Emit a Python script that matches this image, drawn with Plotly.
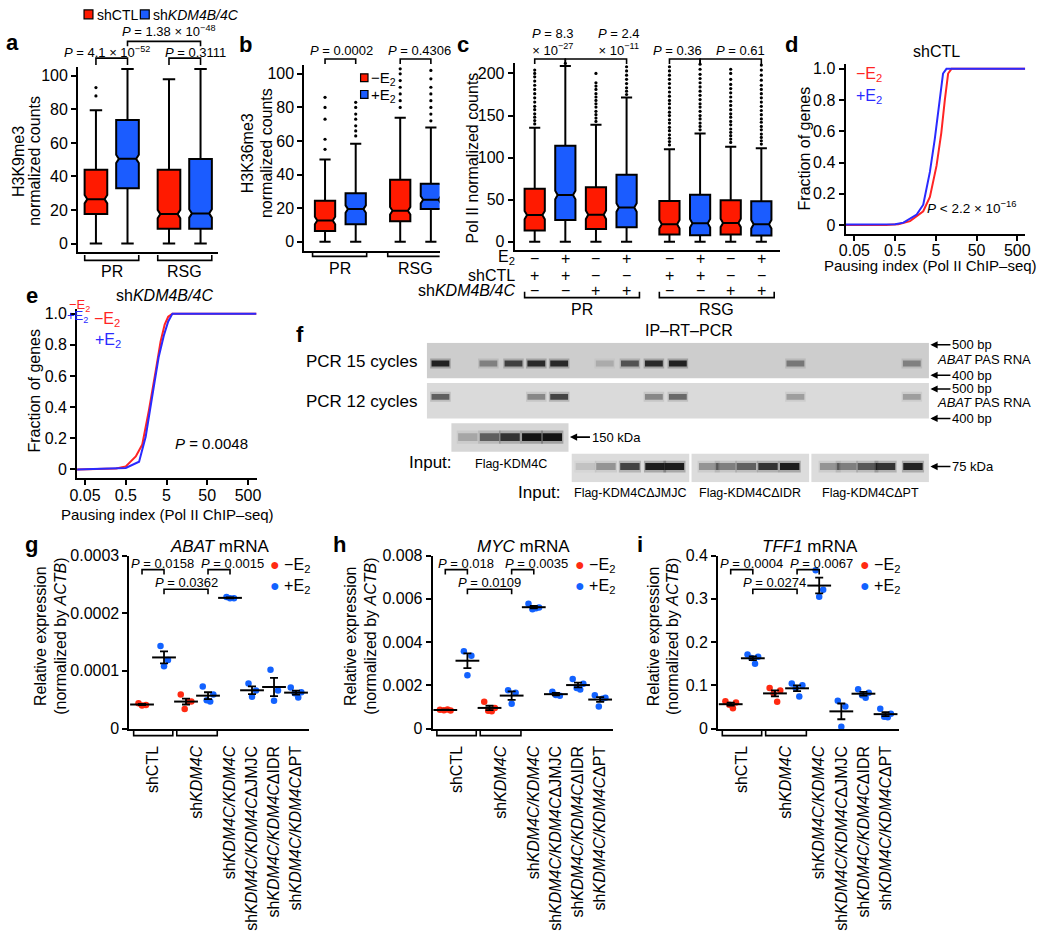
import numpy as np
import plotly.graph_objects as go

# ======================= DATA =======================
# Panel a: H3K9me3 normalized counts (box order: PR-shCTL, PR-shKDM4B/4C, RSG-shCTL, RSG-shKDM4B/4C)
a_groups = ["PR", "RSG"]
a_conditions = ["shCTL", "shKDM4B/4C"]
a_lowerfence = [0, 0, 0, 0]
a_q1 = [17.6, 33.0, 8.8, 8.8]
a_median = [26.5, 50.5, 17.6, 18.0]
a_q3 = [44.0, 73.6, 44.0, 50.4]
a_upperfence = [79.5, 104.0, 98.0, 104.0]
a_outliers = [[88, 93], [], [], []]
a_pvalues = ["<i>P</i> = 4.1 × 10<sup>−52</sup>", "<i>P</i> = 0.3111", "<i>P</i> = 1.38 × 10<sup>−48</sup>"]

# Panel b: H3K36me3 normalized counts (PR -E2, PR +E2, RSG -E2, RSG +E2)
b_groups = ["PR", "RSG"]
b_conditions = ["−E<sub>2</sub>", "+E<sub>2</sub>"]
b_lowerfence = [0, 0, 0, 0]
b_q1 = [6.4, 10.3, 12.2, 19.5]
b_median = [12.6, 19.4, 18.4, 25.0]
b_q3 = [24.3, 28.9, 36.9, 34.5]
b_upperfence = [49.0, 58.3, 73.8, 68.0]
b_outliers = [[55, 61, 73, 80, 86],
              [63, 66, 69, 73, 76, 80, 83],
              [80, 84, 88, 92, 96, 100, 103],
              [72, 76, 80, 84, 88, 92, 97, 102]]
b_pvalues = ["<i>P</i> = 0.0002", "<i>P</i> = 0.4306"]

# Panel c: Pol II normalized counts
c_groups = ["PR", "RSG"]
c_e2 = ["−", "+", "−", "+", "−", "+", "−", "+"]
c_shctl = ["+", "+", "−", "−", "+", "+", "−", "−"]
c_shkdm = ["−", "−", "+", "+", "−", "−", "+", "+"]
c_lowerfence = [0, 0, 0, 0, 0, 0, 0, 0]
c_q1 = [13.3, 25.8, 15.2, 17.2, 8.6, 7.8, 8.6, 7.4]
c_median = [31.6, 55.5, 32.0, 40.6, 20.7, 21.9, 22.3, 20.7]
c_q3 = [62.9, 114.0, 64.8, 79.7, 48.4, 55.9, 49.2, 48.0]
c_upperfence = [135.5, 209.0, 139.0, 171.5, 110.0, 128.5, 113.0, 111.0]
c_outliers = [
    [140, 144, 148, 152, 157, 161, 166, 171, 176, 181, 186, 191, 196, 200, 204],
    [212],
    [143, 147, 151, 155, 160, 164, 168, 172, 176, 181, 185, 189, 200],
    [175, 179, 183, 188, 193, 198, 203, 208],
    [115, 119, 123, 127, 132, 136, 141, 145, 150, 154, 159, 164, 168, 173, 178, 183, 188, 193, 198, 203, 208],
    [133, 137, 141, 146, 150, 155, 160, 164, 169, 174, 179, 184, 189, 194, 199, 205, 211],
    [118, 122, 126, 130, 134, 139, 143, 148, 152, 157, 162, 167, 172, 177, 182, 187, 193, 200, 205],
    [116, 120, 124, 128, 133, 137, 142, 146, 151, 156, 161, 166, 171, 176, 181, 186, 192, 198, 204, 210],
]
c_pvalues = ["<i>P</i> = 8.3<br>× 10<sup>−27</sup>", "<i>P</i> = 2.4<br>× 10<sup>−11</sup>",
             "<i>P</i> = 0.36", "<i>P</i> = 0.61"]

# Panel d: cumulative fraction vs pausing index, shCTL
d_minus_x = [0.03, 0.3, 0.6, 1.16, 2.45, 3.57, 5.2, 6.8, 8.3, 10.0, 12.1, 780]
d_minus_y = [0.0, 0.0, 0.005, 0.025, 0.088, 0.18, 0.38, 0.59, 0.80, 0.97, 1.0, 1.0]
d_plus_x = [0.03, 0.5, 0.8, 1.69, 2.45, 3.57, 4.7, 6.3, 7.5, 9.1, 780]
d_plus_y = [0.003, 0.005, 0.015, 0.067, 0.13, 0.34, 0.55, 0.82, 0.97, 1.0, 1.0]

# Panel e: shKDM4B/4C
e_minus_x = [0.03, 0.29, 0.5, 0.88, 1.27, 1.85, 2.7, 3.57, 4.5, 5.5, 7.0, 800]
e_minus_y = [0.0, 0.006, 0.02, 0.084, 0.16, 0.38, 0.63, 0.82, 0.93, 0.98, 1.0, 1.0]
e_plus_x = [0.03, 0.5, 1.06, 1.54, 2.23, 3.2, 4.3, 5.5, 7.0, 800]
e_plus_y = [0.0, 0.01, 0.05, 0.21, 0.47, 0.72, 0.86, 0.95, 1.0, 1.0]

# Panel f: gel band lanes and intensities
f_pcr15_lane = [0.1, 2.2, 3.3, 4.3, 5.3, 7.3, 8.4, 9.45, 10.5, 15.65, 20.75]
f_pcr15_int = [0.9, 0.35, 0.7, 0.85, 0.85, 0.15, 0.6, 0.85, 0.9, 0.4, 0.35]
f_pcr12_lane = [0.1, 4.3, 5.3, 9.45, 10.5, 15.65, 20.75]
f_pcr12_int = [0.55, 0.35, 0.7, 0.35, 0.5, 0.25, 0.25]
f_wb150_lane = [1.3, 2.25, 3.15, 4.1, 5.0]
f_wb150_int = [0.2, 0.55, 0.8, 1.0, 1.0]
f_wb75_lane = [6.45, 7.35, 8.4, 9.5, 10.35, 11.85, 12.6, 13.5, 14.45, 15.4, 17.15, 17.9, 18.8, 19.6, 20.8]
f_wb75_int = [0.1, 0.3, 0.7, 0.95, 0.95, 0.3, 0.4, 0.55, 0.8, 0.95, 0.3, 0.4, 0.6, 0.8, 0.9]
f_inputs = ["Flag-KDM4CΔJMJC", "Flag-KDM4CΔIDR", "Flag-KDM4CΔPT"]

# Panels g, h, i: relative expression (normalized by ACTB)
ghi_line = ["shCTL", "shCTL", "shKDM4C", "shKDM4C", "KDM4C", "ΔJMJC", "ΔIDR", "ΔPT"]
ghi_treat = ["−", "+", "−", "+", "+", "+", "+", "+"]
ghi_labels = {"shCTL": "shCTL", "shKDM4C": "sh<i>KDM4C</i>", "KDM4C": "sh<i>KDM4C/KDM4C</i>",
              "ΔJMJC": "sh<i>KDM4C/KDM4C</i>ΔJMJC", "ΔIDR": "sh<i>KDM4C/KDM4C</i>ΔIDR",
              "ΔPT": "sh<i>KDM4C/KDM4C</i>ΔPT"}
g_values = [[0.000044, 0.000041, 0.000040], [0.000143, 0.000119, 0.000108],
            [0.000059, 0.000047, 0.000034, 0.000047], [0.000073, 0.000059, 0.000049, 0.000047],
            [0.000228, 0.000226, 0.000226], [0.000078, 0.000066, 0.000055],
            [0.000102, 0.000066, 0.000048], [0.000071, 0.000063, 0.000061, 0.000054]]
h_values = [[0.00087, 0.00083, 0.00085, 0.00088], [0.00357, 0.00337, 0.00247],
            [0.00124, 0.00095, 0.00082, 0.00080], [0.00177, 0.00166, 0.00114],
            [0.00577, 0.00560, 0.00552, 0.00556], [0.00170, 0.00152, 0.00155],
            [0.00229, 0.00207, 0.00187, 0.00181], [0.00154, 0.00142, 0.00102, 0.00138]]
i_values = [[0.063, 0.060, 0.055, 0.047], [0.171, 0.166, 0.163, 0.150],
            [0.094, 0.088, 0.081, 0.062], [0.104, 0.100, 0.094, 0.074],
            [0.366, 0.321, 0.305], [0.064, 0.051, 0.004],
            [0.091, 0.083, 0.077, 0.071], [0.046, 0.034, 0.027, 0.026]]
g_pvals = [(0, 1, "0.0158"), (3, 4, "0.0015"), (1, 3, "0.0362")]
h_pvals = [(0, 1, "0.018"), (3, 4, "0.0035"), (1, 3, "0.0109")]
i_pvals = [(0, 1, "0.0004"), (3, 4, "0.0067"), (1, 3, "0.0274")]
g_yticks = [0, 0.0001, 0.0002, 0.0003]
h_yticks = [0, 0.002, 0.004, 0.006, 0.008]
i_yticks = [0, 0.1, 0.2, 0.3, 0.4]

# ======================= STYLE / LAYOUT =======================
W, H = 1050, 939
FONT = "Liberation Sans, Arial, Helvetica, sans-serif"
BRED, BBLUE = "#ff1a00", "#1b5cff"
LRED, LBLUE = "#ff2424", "#2a2aff"
DRED, DBLUE = "#ff2a12", "#1262ff"


def px(x):
    return x / W


def py(y):
    return 1 - y / H


fig = go.Figure()
axes = {}
annotations = []
shapes = []


def add_axes(n, x0, x1, ytop, ybot, xr, yr, xkw=None, ykw=None):
    xa, ya = ("xaxis", "yaxis") if n == 1 else (f"xaxis{n}", f"yaxis{n}")
    xid, yid = ("x", "y") if n == 1 else (f"x{n}", f"y{n}")
    base = dict(showgrid=False, zeroline=False, showline=True, linecolor="black", linewidth=2,
                ticks="outside", ticklen=5, tickwidth=2, tickcolor="black",
                tickfont=dict(family=FONT, size=16, color="black"))
    xd = dict(base, domain=[px(x0), px(x1)], range=xr, anchor=yid)
    yd = dict(base, domain=[py(ybot), py(ytop)], range=yr, anchor=xid)
    if xkw:
        xd.update(xkw)
    if ykw:
        yd.update(ykw)
    axes[xa] = xd
    axes[ya] = yd
    return xid, yid


def text(t, x, y, size=16, xanchor="center", yanchor="middle", color="black", angle=0,
         family=FONT, xref="paper", yref="paper"):
    annotations.append(dict(
        text=t, x=px(x) if xref == "paper" else x, y=py(y) if yref == "paper" else y,
        xref=xref, yref=yref, showarrow=False, xanchor=xanchor, yanchor=yanchor,
        textangle=angle, font=dict(family=family, size=size, color=color)))


def bracket(xref, x0, x1, yline, ytick, width=1.6):
    # horizontal line at yline with end ticks reaching ytick (pixel y)
    shapes.append(dict(type="path", xref=xref, yref="paper",
                       path=f"M {x0},{py(ytick)} L {x0},{py(yline)} L {x1},{py(yline)} L {x1},{py(ytick)}",
                       line=dict(color="black", width=width)))


def add_boxes(xid, yid, pos, lo, q1, med, q3, hi, outl, colors, width, notch):
    for k, p in enumerate(pos):
        fig.add_trace(go.Box(
            x=[p], lowerfence=[lo[k]], q1=[q1[k]], median=[med[k]], q3=[q3[k]], upperfence=[hi[k]],
            notched=True, notchspan=[notch], notchwidth=0.12, fillcolor=colors[k],
            line=dict(color="black", width=2), width=width, whiskerwidth=0.55,
            boxpoints=False, xaxis=xid, yaxis=yid, showlegend=False, hoverinfo="skip"))
        if outl[k]:
            fig.add_trace(go.Scatter(
                x=[p] * len(outl[k]), y=outl[k], mode="markers",
                marker=dict(color="black", size=3.2), xaxis=xid, yaxis=yid,
                showlegend=False, hoverinfo="skip", cliponaxis=False))


nox = dict(showticklabels=False, ticks="")
PFONT = 13

# ---------------- Panel a ----------------
a_off = [-0.216, 0.216]
a_pos = [g + a_off[c] for g in range(len(a_groups)) for c in range(len(a_conditions))]
xa, ya = add_axes(1, 71, 213, 60.5, 248, [-0.46, 1.46], [-4.7, 105], xkw=nox,
                  ykw=dict(tickvals=[0, 20, 40, 60, 80, 100]))
add_boxes(xa, ya, a_pos, a_lowerfence, a_q1, a_median, a_q3, a_upperfence, a_outliers,
          [BRED, BBLUE, BRED, BBLUE], 0.31, 2.5)
for g, name in enumerate(a_groups):
    bracket(xa, g - 0.37, g + 0.37, 257, 251.5)
    text(name, g, 268, size=16, xref=xa)
bracket(xa, a_pos[0], a_pos[1], 51, 58)
bracket(xa, a_pos[2], a_pos[3], 51, 58)
bracket(xa, a_pos[1], a_pos[3], 34, 39)
text(a_pvalues[0], 100, 45, size=PFONT)
text(a_pvalues[1], 190, 45, size=PFONT)
text(a_pvalues[2], 163, 23, size=PFONT)
text("H3K9me3", 10, 156, angle=-90)
text("normalized counts", 27, 156, angle=-90)
# legend a
shapes.append(dict(type="rect", xref="paper", yref="paper", x0=px(77), x1=px(86), y0=py(11), y1=py(2),
                   fillcolor=BRED, line=dict(color="black", width=1.2)))
shapes.append(dict(type="rect", xref="paper", yref="paper", x0=px(134), x1=px(143), y0=py(11), y1=py(2),
                   fillcolor=BBLUE, line=dict(color="black", width=1.2)))
text(a_conditions[0], 88, 7, size=14, xanchor="left")
text("sh<i>KDM4B/4C</i>", 145, 7, size=14, xanchor="left")
text("<b>a</b>", 5, 35, size=22)

# ---------------- Panel b ----------------
b_off = [-0.204, 0.204]
b_pos = [g + b_off[c] for g in range(len(b_groups)) for c in range(len(b_conditions))]
xb, yb = add_axes(2, 300, 437, 58.5, 247, [-0.48, 1.32], [-5.3, 105], xkw=nox,
                  ykw=dict(tickvals=[0, 20, 40, 60, 80, 100]))
add_boxes(xb, yb, b_pos, b_lowerfence, b_q1, b_median, b_q3, b_upperfence, b_outliers,
          [BRED, BBLUE, BRED, BBLUE], 0.27, 2.2)
for g, name in enumerate(b_groups):
    bracket(xb, g - 0.37, g + 0.35, 253, 248)
    text(name, g, 265, size=16, xref=xb)
bracket(xb, b_pos[0], b_pos[1], 52, 57)
bracket(xb, b_pos[2], b_pos[3], 52, 57)
text(b_pvalues[0], 338, 43, size=PFONT)
text(b_pvalues[1], 417, 43, size=PFONT)
text("H3K36me3", 242, 148, angle=-90)
text("normalized counts", 262, 148, angle=-90)
shapes.append(dict(type="rect", xref="paper", yref="paper", x0=px(357), x1=px(364.5), y0=py(75), y1=py(67),
                   fillcolor=BRED, line=dict(color="black", width=1.2)))
shapes.append(dict(type="rect", xref="paper", yref="paper", x0=px(357), x1=px(364.5), y0=py(92), y1=py(84),
                   fillcolor=BBLUE, line=dict(color="black", width=1.2)))
text(b_conditions[0], 366, 72, size=15, xanchor="left")
text(b_conditions[1], 366, 89, size=15, xanchor="left")
text("<b>b</b>", 240, 37, size=22)

# ---------------- Panel c ----------------
c_pos = [g * 4.4 + k for g in range(len(c_groups)) for k in range(4)]
xc, yc = add_axes(3, 513, 782, 56.4, 246, [-0.655, 8.02], [-9.34, 212], xkw=nox,
                  ykw=dict(tickvals=[0, 50, 100, 150, 200]))
add_boxes(xc, yc, c_pos, c_lowerfence, c_q1, c_median, c_q3, c_upperfence, c_outliers,
          [BRED, BBLUE] * 4, 0.66, 5)
for k, p in enumerate(c_pos):
    text(c_e2[k], p, 255, size=16, xref=xc)
    text(c_shctl[k], p, 272, size=16, xref=xc)
    text(c_shkdm[k], p, 288, size=16, xref=xc)
text("E<sub>2</sub>", 515, 254, size=16, xanchor="right")
text("shCTL", 515, 272, size=16, xanchor="right")
text("sh<i>KDM4B/4C</i>", 515, 288, size=16, xanchor="right")
for g, name in enumerate(c_groups):
    x0 = c_pos[g * 4] - 0.33
    x1 = c_pos[g * 4 + 3] + 0.42
    bracket(xc, x0, x1, 295, 289)
    text(name, (x0 + x1) / 2, 307, size=16, xref=xc)
bracket(xc, c_pos[0], c_pos[1], 52, 57)
bracket(xc, c_pos[1], c_pos[3], 52, 57)
bracket(xc, c_pos[4], c_pos[5], 52, 57)
bracket(xc, c_pos[5], c_pos[7], 52, 57)
text(c_pvalues[0], 552, 35, size=PFONT)
text(c_pvalues[1], 619, 35, size=PFONT)
text(c_pvalues[2], 678, 43, size=PFONT)
text(c_pvalues[3], 742, 43, size=PFONT)
text("Pol II normalized counts", 470, 153, angle=-90)
text("<b>c</b>", 461, 37, size=22)

# ---------------- Panel d ----------------
logticks = dict(type="log", tickvals=[0.05, 0.5, 5, 50, 500], ticktext=["0.05", "0.5", "5", "50", "500"],
                ticklabelstandoff=-4)
fracticks = dict(tickvals=[0, 0.2, 0.4, 0.6, 0.8, 1.0], ticktext=["0", "0.2", "0.4", "0.6", "0.8", "1.0"])
xd_, yd_ = add_axes(4, 848, 1030, 57.2, 230, [-1.52, 2.894], [-0.0566, 1.03], xkw=logticks, ykw=fracticks)
fig.add_trace(go.Scatter(x=d_minus_x, y=d_minus_y, mode="lines", line=dict(color=LRED, width=2),
                         xaxis=xd_, yaxis=yd_, showlegend=False))
fig.add_trace(go.Scatter(x=d_plus_x, y=d_plus_y, mode="lines", line=dict(color=LBLUE, width=2),
                         xaxis=xd_, yaxis=yd_, showlegend=False))
text("shCTL", 940, 44, size=16)
text("−E<sub>2</sub>", 857, 68, size=16, xanchor="left", color=LRED)
text("+E<sub>2</sub>", 857, 90, size=16, xanchor="left", color=LBLUE)
text("<i>P</i> < 2.2 × 10<sup>−16</sup>", 928, 203, size=13.5, xanchor="left")
text("Fraction of genes", 806, 143, angle=-90)
text("Pausing index (Pol II ChIP–seq)", 934, 262, size=15)
text("<b>d</b>", 793, 37, size=22)

# ---------------- Panel e ----------------
xe, ye = add_axes(5, 70, 252, 306.5, 479, [-1.495, 2.917], [-0.0567, 1.03], xkw=logticks, ykw=fracticks)
fig.add_trace(go.Scatter(x=e_minus_x, y=e_minus_y, mode="lines", line=dict(color=LRED, width=2),
                         xaxis=xe, yaxis=ye, showlegend=False))
fig.add_trace(go.Scatter(x=e_plus_x, y=e_plus_y, mode="lines", line=dict(color=LBLUE, width=2),
                         xaxis=xe, yaxis=ye, showlegend=False))
text("sh<i>KDM4B/4C</i>", 158, 293, size=16)
text("−E<sub>2</sub>", 60, 303, size=13, xanchor="left", color=LRED)
text("+E<sub>2</sub>", 58, 314, size=13, xanchor="left", color=LBLUE)
text("−E<sub>2</sub>", 85, 317, size=16, xanchor="left", color=LRED)
text("+E<sub>2</sub>", 86, 339, size=16, xanchor="left", color=LBLUE)
text("<i>P</i> = 0.0048", 167, 444, size=15, xanchor="left")
text("Fraction of genes", 27, 390, angle=-90)
text("Pausing index (Pol II ChIP–seq)", 161, 516, size=15)
text("<b>e</b>", 24, 293, size=22)

# ---------------- Panel f ----------------
hid = dict(showline=False, showticklabels=False, ticks="")
xf, yf = add_axes(6, 424, 932.5, 341, 483, [-0.5, 21.5], [142, 0], xkw=hid, ykw=hid)
gel_boxes = [(-0.5, 21.5, 0, 36, "#cdcdcd"), (-0.5, 21.5, 41, 77, "#dadada"),
             (0.58, 5.71, 82, 111, "#d6d6d6"),
             (5.85, 11.0, 113, 142, "#dcdcdc"), (11.1, 16.25, 113, 142, "#dcdcdc"),
             (16.35, 21.5, 113, 142, "#dcdcdc")]
for x0, x1, y0, y1, col in gel_boxes:
    shapes.append(dict(type="rect", xref=xf, yref=yf, x0=x0, x1=x1, y0=y0, y1=y1,
                       fillcolor=col, line=dict(width=0), layer="below"))


def bands(lanes, ints, center, thick, w):
    fig.add_trace(go.Bar(x=lanes, y=[thick * 1.7] * len(lanes), base=[center - thick * 0.85] * len(lanes),
                         width=w + 0.12, marker=dict(color=[f"rgba(40,40,40,{0.3 * a:.3f})" for a in ints],
                                                     line=dict(width=0)),
                         xaxis=xf, yaxis=yf, showlegend=False, hoverinfo="skip"))
    fig.add_trace(go.Bar(x=lanes, y=[thick] * len(lanes), base=[center - thick / 2] * len(lanes),
                         width=w, marker=dict(color=[f"rgba(20,20,20,{a:.3f})" for a in ints],
                                              line=dict(width=0)),
                         xaxis=xf, yaxis=yf, showlegend=False, hoverinfo="skip"))


bands(f_pcr15_lane, f_pcr15_int, 21, 6, 0.78)
bands(f_pcr12_lane, f_pcr12_int, 55, 6, 0.78)
bands(f_wb150_lane, f_wb150_int, 96, 8, 0.85)
bands(f_wb75_lane, f_wb75_int, 126, 7, 0.85)

text("IP–RT–PCR", 690, 328, size=16)
text("PCR 15 cycles", 416, 360, size=17, xanchor="right")
text("PCR 12 cycles", 416, 401, size=17, xanchor="right")


def arrow_label(t, xhead, y, size=13):
    annotations.append(dict(text=t, x=px(xhead), y=py(y), xref="paper", yref="paper", showarrow=True,
                            ax=20, ay=0, xanchor="left", arrowhead=2, arrowsize=0.9, arrowwidth=1.6,
                            arrowcolor="black", standoff=0,
                            font=dict(family=FONT, size=size, color="black")))


arrow_label("500 bp", 934, 343)
text("<i>ABAT</i> PAS RNA", 939, 358, size=13, xanchor="left")
arrow_label("400 bp", 934, 374)
arrow_label("500 bp", 934, 388)
text("<i>ABAT</i> PAS RNA", 939, 402, size=13, xanchor="left")
arrow_label("400 bp", 934, 418)
arrow_label("150 kDa", 569, 437)
arrow_label("75 kDa", 934, 467)
text("Input:", 428, 463, size=17)
text("Flag-KDM4C", 509, 464, size=12.5)
text("Input:", 538, 493, size=17)
for name, cx in zip(f_inputs, [630, 751, 873]):
    text(name, cx, 494, size=12.5)
text("<b>f</b>", 296, 333, size=22)

# ---------------- Panels g, h, i ----------------
JITTER = {3: [-0.16, 0.18, 0.0], 4: [-0.24, 0.24, -0.06, 0.1]}
slots = list(range(len(ghi_line)))
lab_names = list(dict.fromkeys(ghi_line))
lab_pos = [float(np.mean([s for s in slots if ghi_line[s] == n])) for n in lab_names]
lab_text = [ghi_labels[n] for n in lab_names]


def fmt_tick(v):
    if v == 0:
        return "0"
    return f"{v:.4f}" if v < 1e-3 else f"{v:g}"


def ghi_panel(n, x0, x1, ymax, yticks, values, pvals, title, title_x, legend_x, ytitle_x):
    xid, yid = add_axes(n, x0, x1, 557.7, 733.8, [-0.57, 7.6], [0, ymax],
                        xkw=dict(tickvals=lab_pos, ticktext=lab_text, tickangle=-90, ticklen=9,
                                 tickcolor="rgba(0,0,0,0)", tickfont=dict(family=FONT, size=16)),
                        ykw=dict(tickvals=yticks, ticktext=[fmt_tick(v) for v in yticks]))
    for s, vals in zip(slots, values):
        col = DRED if ghi_treat[s] == "−" else DBLUE
        jit = JITTER[len(vals)]
        fig.add_trace(go.Scatter(x=[s + j for j in jit], y=vals, mode="markers",
                                 marker=dict(color=col, size=6.5), xaxis=xid, yaxis=yid,
                                 showlegend=False, hoverinfo="skip", cliponaxis=False))
    for s, vals in zip(slots, values):
        m = float(np.mean(vals))
        sem = float(np.std(vals, ddof=1) / np.sqrt(len(vals)))
        fig.add_trace(go.Scatter(x=[s], y=[m], mode="markers",
                                 marker=dict(symbol="line-ew", size=17, color="black",
                                             line=dict(width=2, color="black")),
                                 error_y=dict(type="data", array=[sem], color="black", thickness=1.8, width=4),
                                 xaxis=xid, yaxis=yid, showlegend=False, hoverinfo="skip", cliponaxis=False))
    # group brackets under the axis
    bracket(xid, -0.38, 1.4, 741, 736)
    bracket(xid, 1.58, 3.42, 741, 736)
    # p-value brackets
    for (sa, sb, pv) in pvals:
        level2 = (sb - sa) > 1
        yl, yt, ytx = (592, 597, 585) if level2 else (572, 577, 566)
        bracket(xid, sa, sb, yl, yt)
        if level2:
            tx = (sa + sb) / 2
        else:
            tx = sb - 0.08 if sa == 0 else sb + 0.12
        text(f"<i>P</i> = {pv}", tx, ytx, size=PFONT, xref=xid)
    text(title, title_x, 548, size=17)
    text(f'<span style="color:{DRED}">●</span> −E<sub>2</sub>', legend_x, 568, size=16, xanchor="left")
    text(f'<span style="color:{DBLUE}">●</span> +E<sub>2</sub>', legend_x, 589, size=16, xanchor="left")
    text("Relative expression", ytitle_x, 640, angle=-90)
    text("(normalized by <i>ACTB</i>)", ytitle_x + 20, 640, angle=-90)


ghi_panel(7, 123, 305, 0.0003, g_yticks, g_values, g_pvals, "<i>ABAT</i> mRNA", 215, 263, 33)
text("<b>g</b>", 24, 546, size=22)
ghi_panel(8, 430, 613, 0.008, h_yticks, h_values, h_pvals, "<i>MYC</i> mRNA", 522, 572, 347)
text("<b>h</b>", 336, 546, size=22)
ghi_panel(9, 719, 902, 0.4, i_yticks, i_values, i_pvals, "<i>TFF1</i> mRNA", 812, 861, 653)
text("<b>i</b>", 640, 546, size=22)

fig.update_layout(
    width=W, height=H, margin=dict(l=0, r=0, t=0, b=0),
    paper_bgcolor="white", plot_bgcolor="white", showlegend=False,
    barmode="overlay", boxmode="overlay",
    font=dict(family=FONT, size=16, color="black"),
    annotations=annotations, shapes=shapes, **axes)

fig.write_html("out.html", config={"displayModeBar": False},
               post_script="document.body.style.margin='0px';")
